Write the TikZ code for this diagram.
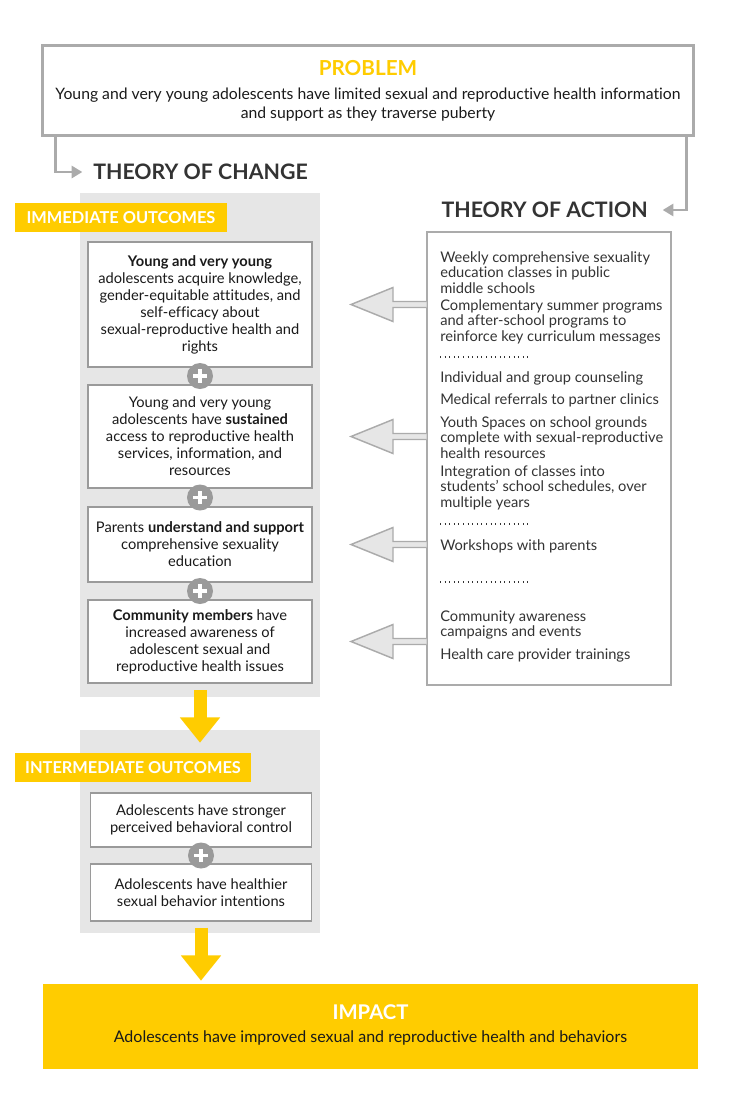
\documentclass[tikz,border=0pt]{standalone}
\usepackage{fontspec}
\setmainfont{Lato}[Ligatures={NoCommon}]
\usetikzlibrary{calc,positioning,arrows.meta}
\definecolor{gold}{HTML}{FFCC00}
\definecolor{panelgray}{HTML}{E6E6E6}
\definecolor{linegray}{HTML}{ABABAB}
\definecolor{boxgray}{HTML}{9A9A9A}
\definecolor{darktext}{HTML}{333333}
\definecolor{bodytext}{HTML}{1A1A1A}
\tikzset{
  outbox/.style={draw=boxgray, line width=0.8pt, fill=white, align=center,
    minimum width=168pt, inner sep=0pt, text=bodytext,
    font=\fontsize{11}{12.75}\selectfont},
  panel/.style={fill=panelgray, minimum width=180pt, inner sep=0pt},
  tag/.style={fill=gold, text=white, font=\bfseries\fontsize{12.3}{14}\selectfont,
    minimum height=21.75pt, inner sep=0pt},
  heading/.style={font=\bfseries\fontsize{16}{18}\selectfont, text=darktext, inner sep=0pt},
  plus/.style={circle, fill=boxgray, minimum size=19.5pt, inner sep=0pt,
    path picture={\draw[white, line width=2.5pt]
      ([xshift=-5pt]path picture bounding box.center) -- ([xshift=5pt]path picture bounding box.center)
      ([yshift=-5pt]path picture bounding box.center) -- ([yshift=5pt]path picture bounding box.center);}},
  link/.style={draw=linegray, line width=2.2pt, -{Triangle[width=9pt,length=8pt]}},
  flow/.style={draw=gold, line width=9.75pt, -{Triangle[width=29pt,length=19pt]}},
  hollow/.style={draw=linegray, line width=1.1pt, fill=panelgray},
  actiontext/.style={anchor=west, align=left, inner sep=0pt, text=darktext,
    font=\fontsize{11}{11.6}\selectfont},
  dots/.style={draw=darktext, line width=0.8pt, dash pattern=on 0.8pt off 2.65pt}
}
\begin{document}
\begin{tikzpicture}[x=0.75pt,y=-0.75pt]
\useasboundingbox (0,0) rectangle (739,1115);
% problem
\node[draw=linegray, line width=2.25pt, minimum width=488pt, minimum height=67.5pt] (problem) at (368,90.5) {};
\node[font=\bfseries\fontsize{15.5}{17}\selectfont, text=gold] (probtitle) at (368,68) {PROBLEM};
\node[align=center, text=bodytext, font=\fontsize{11.8}{14.25}\selectfont] (probtext) at (368,104.5)
  {Young and very young adolescents have limited sexual and reproductive health information\\and support as they traverse puberty};
% the two theories
\node[heading, anchor=west] (change) at (93,172) {THEORY OF CHANGE};
\node[heading, anchor=east] (action) at (648,210) {THEORY OF ACTION};
\draw[link] ([xshift=11pt]problem.south west) |- ([xshift=-8pt]change.west);
\draw[link] ([xshift=-6pt]problem.south east) |- ([xshift=11pt]action.east);
% outcome panels
\node[panel, minimum height=378pt] (immpanel) at (200,445) {};
\node[panel, minimum height=152.25pt] (intpanel) at (199.5,831.5) {};
\node[tag, minimum width=159pt] (immtag) at (121,217.5) {IMMEDIATE OUTCOMES};
\node[tag, minimum width=177pt] (inttag) at (133,767.5) {INTERMEDIATE OUTCOMES};
\node[outbox, minimum height=93.75pt] (ia) at (200,304.5)
  {\textbf{Young and very young}\\adolescents acquire knowledge,\\gender-equitable attitudes, and\\self-efficacy about\\sexual-reproductive health and\\rights};
\node[outbox, minimum height=77.25pt] (ib) at (200,436.5)
  {Young and very young\\adolescents have \textbf{sustained}\\access to reproductive health\\services, information, and\\resources};
\node[outbox, minimum height=56.25pt] (ic) at (200,544.5)
  {Parents \textbf{understand and support}\\comprehensive sexuality\\education};
\node[outbox, minimum height=62.25pt] (id) at (200,641.5)
  {\textbf{Community members} have\\increased awareness of\\adolescent sexual and\\reproductive health issues};
\node[outbox, minimum width=165.75pt, minimum height=40.5pt] (ie) at (201,820)
  {Adolescents have stronger\\perceived behavioral control};
\node[outbox, minimum width=165.75pt, minimum height=42.75pt] (if) at (201,892.5)
  {Adolescents have healthier\\sexual behavior intentions};
\foreach \a/\b in {ia/ib,ib/ic,ic/id,ie/if}
  \node[plus] (plus-\a) at ($(\a.south)!0.5!(\b.north)$) {};
% impact
\node[fill=gold, minimum width=491.25pt, minimum height=63.75pt] (impact) at (370.5,1026.5) {};
\node[font=\bfseries\fontsize{15.2}{17}\selectfont, text=white] (imptitle) at (370.5,1012) {IMPACT};
\node[text=bodytext, font=\fontsize{12}{14}\selectfont] (imptext) at (370.5,1038)
  {Adolescents have improved sexual and reproductive health and behaviors};
\draw[flow] ([yshift=-5pt]id.south) -- ($(id.south |- intpanel.north)+(0,13)$);
\draw[flow] ([yshift=-4.5pt]if.south) -- ($(if.south |- impact.north)+(0,-3)$);
% theory of action
\node[draw=linegray, line width=1.5pt, minimum width=183pt, minimum height=339.75pt] (actbox) at (549,458.5) {};
\node[actiontext] (act1) at (440,272.5) {Weekly comprehensive sexuality\\education classes in public\\middle schools};
\node[actiontext] (act2) at (440,321.5) {Complementary summer programs\\and after-school programs to\\reinforce key curriculum messages};
\draw[dots] (440,357) -- (528,357);
\node[actiontext] (act3) at (440,378) {Individual and group counseling};
\node[actiontext] (act4) at (440,400) {Medical referrals to partner clinics};
\node[actiontext] (act5) at (440,437.5) {Youth Spaces on school grounds\\complete with sexual-reproductive\\health resources};
\node[actiontext] (act6) at (440,487.5) {Integration of classes into\\students' school schedules, over\\multiple years};
\draw[dots] (440,524) -- (528,524);
\node[actiontext] (act7) at (440,546) {Workshops with parents};
\draw[dots] (440,582) -- (528,582);
\node[actiontext] (act8) at (440,625) {Community awareness\\campaigns and events};
\node[actiontext] (act9) at (440,655) {Health care provider trainings};
\foreach \b in {ia,ib,ic,id}
  \draw[hollow] ($(actbox.west |- \b.east)+(0.5,-3)$) -- ++(-33.5,0) -- ++(0,-14) -- ++(-42,17)
    -- ++(42,17) -- ++(0,-14) -- ++(33.5,0);
\end{tikzpicture}
\end{document}
